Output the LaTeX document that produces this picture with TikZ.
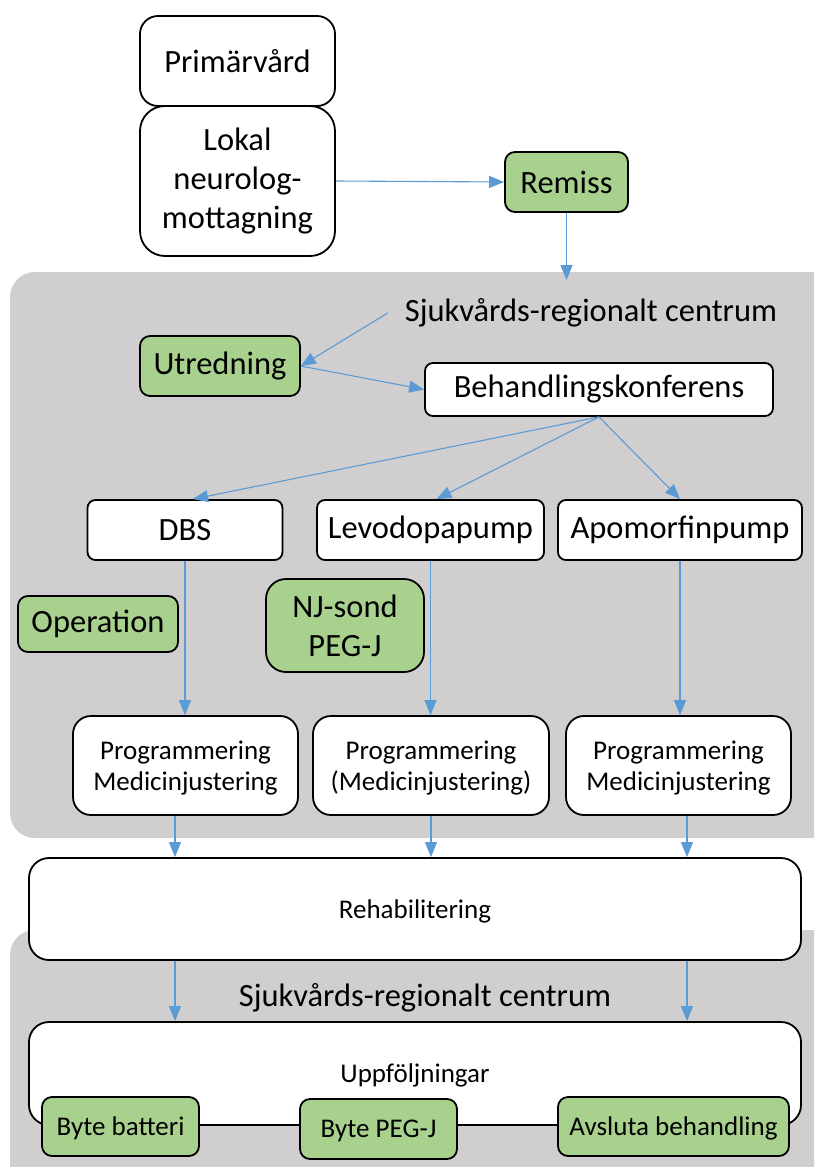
\documentclass[tikz,border=0pt]{standalone}
\usepackage{fontspec}
\setmainfont{Carlito}
\usetikzlibrary{arrows.meta}
\definecolor{regiongray}{HTML}{D0CECE}
\definecolor{stepgreen}{HTML}{A9D18E}
\definecolor{flowblue}{HTML}{5B9BD5}
\newcommand{\bigtext}{\fontsize{32.5}{39}\selectfont}
\newcommand{\smalltext}{\fontsize{27}{31}\selectfont}

\begin{document}
\begin{tikzpicture}[x=1pt,y=-1pt,
    box/.style={draw=black, line width=1.8pt, fill=white, rounded corners=14pt,
        align=center, inner sep=0pt, font=\bigtext},
    greenbox/.style={box, fill=stepgreen},
    small/.style={font=\smalltext, text depth=0pt},
    flow/.style={draw=flowblue, line width=1.1pt, -{Triangle[length=15pt,width=12pt]}}]
    \useasboundingbox (0,0) rectangle (814,1167);
    \clip (0,0) rectangle (814,1167);

    % Regional areas in the background
    \fill[regiongray, rounded corners=25pt] (10,272) rectangle (850,838);
    \fill[regiongray, rounded corners=25pt] (10,930) rectangle (850,1220);

    % Local care
    \node[box, rounded corners=18pt, minimum width=195pt, minimum height=90pt] (prim) at (237.5,61) {Primärvård};
    \node[box, rounded corners=25pt, minimum width=195pt, minimum height=150pt] (lokal) at (237.5,181) {Lokal\\neurolog-\\mottagning};
    \node[greenbox, rounded corners=10pt, minimum width=123pt, minimum height=60pt] (remiss) at (566.5,182) {Remiss};
    \coordinate (remissend) at (566.5,280);

    % First regional centre
    \node[font=\bigtext, inner xsep=17pt] (region1) at (591,313) {Sjukvårds-regionalt centrum};
    \node[greenbox, rounded corners=10pt, minimum width=160pt, minimum height=60pt] (utred) at (220,366) {Utredning};
    \node[box, rounded corners=8pt, minimum width=348pt, minimum height=53pt] (konf) at (599,389.5) {Behandlingskonferens};

    % Treatments
    \node[box, rounded corners=8pt, minimum width=195pt, minimum height=60pt] (dbs) at (185,530) {DBS};
    \node[box, rounded corners=8pt, minimum width=227pt, minimum height=60pt] (levo) at (430.5,530) {Levodopapump};
    \node[box, rounded corners=8pt, minimum width=244pt, minimum height=60pt] (apo) at (680,530) {Apomorfinpump};
    \node[greenbox, rounded corners=10pt, minimum width=160pt, minimum height=56pt] (oper) at (98,624) {Operation};
    \node[greenbox, rounded corners=20pt, minimum width=158pt, minimum height=93pt] (sond) at (345,625.5) {NJ-sond\\PEG-J};

    % Adjustment
    \node[box, small, rounded corners=18pt, minimum width=225pt, minimum height=99pt] (prog1) at (185.5,765.5) {Programmering\\Medicinjustering};
    \node[box, small, rounded corners=18pt, minimum width=236pt, minimum height=99pt] (prog2) at (431,765.5) {Programmering\\(Medicinjustering)};
    \node[box, small, rounded corners=18pt, minimum width=225pt, minimum height=99pt] (prog3) at (678.5,765.5) {Programmering\\Medicinjustering};

    % Rehabilitation and follow-up
    \node[box, small, rounded corners=20pt, minimum width=772pt, minimum height=102pt] (rehab) at (415,909) {Rehabilitering};
    \node[font=\bigtext] (region2) at (425,998) {Sjukvårds-regionalt centrum};
    \node[box, small, rounded corners=20pt, minimum width=772pt, minimum height=103pt] (uppf) at (415,1073.5) {Uppföljningar};
    \node[greenbox, small, rounded corners=10pt, minimum width=157pt, minimum height=59pt] (batteri) at (120.5,1126.5) {Byte batteri};
    \node[greenbox, small, rounded corners=10pt, minimum width=157pt, minimum height=60pt] (bytepeg) at (378.5,1129) {Byte PEG-J};
    \node[greenbox, small, rounded corners=10pt, minimum width=231pt, minimum height=59pt] (avsluta) at (673.5,1126.5) {Avsluta behandling};

    % Columns for the vertical arrows
    \coordinate (colA) at (175,0);
    \coordinate (colB) at (431,0);
    \coordinate (colC) at (687,0);

    % Arrows
    \draw[flow] (lokal.east) -- (remiss.west);
    \draw[flow] (remiss.south) -- (remissend);
    \draw[flow] (region1.west) -- (utred.east);
    \draw[flow] (utred.east) -- (konf.west);
    \draw[flow] (konf.south) -- ([xshift=8pt]dbs.north);
    \draw[flow] (konf.south) -- ([xshift=6pt]levo.north);
    \draw[flow] (konf.south) -- (apo.north);
    \draw[flow] (dbs.south) -- (dbs.south |- prog1.north);
    \draw[flow] (levo.south) -- (levo.south |- prog2.north);
    \draw[flow] (apo.south) -- (apo.south |- prog3.north);
    \draw[flow] (colA |- prog1.south) -- (colA |- rehab.north);
    \draw[flow] (colB |- prog2.south) -- (colB |- rehab.north);
    \draw[flow] (colC |- prog3.south) -- (colC |- rehab.north);
    \draw[flow] (colA |- rehab.south) -- (colA |- uppf.north);
    \draw[flow] (colC |- rehab.south) -- (colC |- uppf.north);
\end{tikzpicture}
\end{document}
